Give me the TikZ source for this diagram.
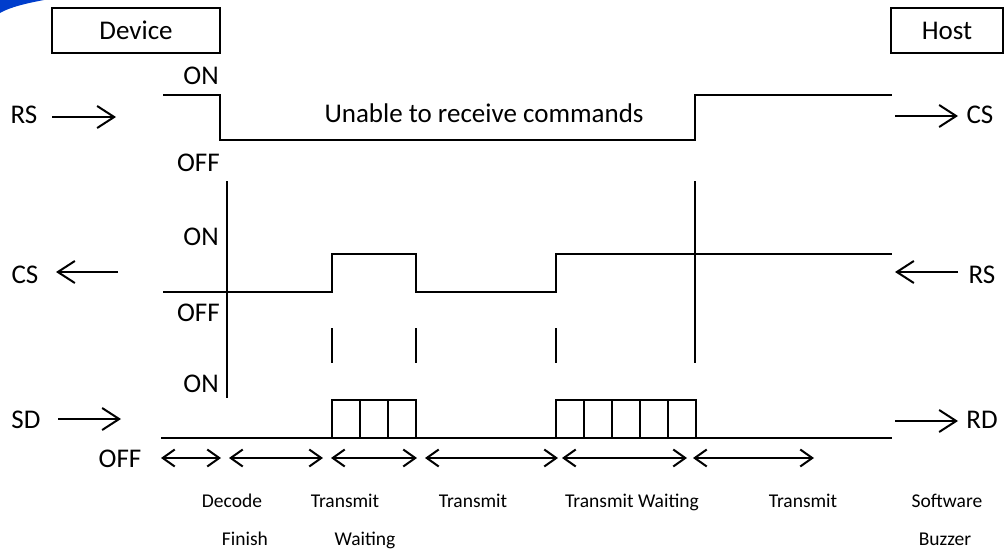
\documentclass[tikz,border=0pt]{standalone}
\usepackage{fontspec}
\setmainfont{Carlito}
\usetikzlibrary{arrows.meta}
\begin{document}
\begin{tikzpicture}[x=1pt,y=-1pt,
  lbl/.style={inner sep=0pt, font=\fontsize{27}{32}\selectfont},
  small/.style={inner sep=0pt, font=\fontsize{19.5}{23}\selectfont, anchor=base},
  sig/.style={line width=2.4pt, line join=miter},
  bar/.style={line width=2pt},
  hbox/.style={draw, line width=2.2pt, inner sep=0pt, font=\fontsize{27}{32}\selectfont},
  sarrow/.style={line width=2pt, -{Straight Barb[length=17pt,width=22pt,line width=2pt]}},
  darrow/.style={line width=2pt, {Straight Barb[length=12pt,width=17pt,line width=2pt]}-{Straight Barb[length=12pt,width=17pt,line width=2pt]}}
]
\useasboundingbox (0,0) rectangle (1005,554);
% logo fragment
\fill[blue!70!cyan!80!black] (0,0) -- (44,0) .. controls (28,3) and (10,7) .. (0,13) -- cycle;

% header boxes
\node[hbox, minimum width=168pt, minimum height=45pt] (dev) at (136,30.5) {Device};
\node[hbox, minimum width=112pt, minimum height=45pt] (host) at (947,30.5) {Host};

% ---------- RS / CS row ----------
\node[lbl, anchor=base] (rsl) at (24,123) {RS};
\coordinate (rsa1) at (52,117);
\coordinate (rsa2) at (116,117);
\draw[sarrow] (rsa1) -- (rsa2);
\node[lbl, anchor=base east] (on1) at (219,84) {ON};
\node[lbl, anchor=base east] (off1) at (220,171) {OFF};
\draw[sig] (163,95) -- (220,95) -- (220,140) -- (695,140) -- (695,95) -- (892,95);
\node[lbl, anchor=base] (unable) at (484,122) {Unable to receive commands};
\coordinate (csa1) at (895,116);
\coordinate (csa2) at (958,116);
\draw[sarrow] (csa1) -- (csa2);
\node[lbl, anchor=base] (csr) at (980,123) {CS};

% vertical marker lines
\coordinate (v1t) at (227,181);
\coordinate (v1b) at (227,398);
\draw[bar] (v1t) -- (v1b);
\coordinate (v2t) at (695,181);
\coordinate (v2b) at (695,363);
\draw[bar] (v2t) -- (v2b);

% ---------- CS / RS row ----------
\node[lbl, anchor=base] (csl) at (25,283) {CS};
\coordinate (cla1) at (118,272);
\coordinate (cla2) at (56,272);
\draw[sarrow] (cla1) -- (cla2);
\node[lbl, anchor=base east] (on2) at (219,245) {ON};
\node[lbl, anchor=base east] (off2) at (220,321) {OFF};
\draw[sig] (163,292) -- (332,292) -- (332,254) -- (416,254) -- (416,292) -- (556,292) -- (556,254) -- (892,254);
\coordinate (rra1) at (958,272);
\coordinate (rra2) at (895,272);
\draw[sarrow] (rra1) -- (rra2);
\node[lbl, anchor=base] (rsr) at (982,283) {RS};

% ticks
\foreach \x in {332,416,556} \draw[bar] (\x,328) -- (\x,363);

% ---------- SD / RD row ----------
\node[lbl, anchor=base] (sdl) at (26,428) {SD};
\coordinate (sda1) at (58,419);
\coordinate (sda2) at (121,419);
\draw[sarrow] (sda1) -- (sda2);
\node[lbl, anchor=base east] (on3) at (219,392) {ON};
\draw[sig] (161,438) -- (892,438);
\draw[sig] (332,438) -- (332,400) -- (416,400) -- (416,438);
\foreach \x in {360,388} \draw[sig] (\x,400) -- (\x,438);
\draw[sig] (556,438) -- (556,400) -- (696,400) -- (696,438);
\foreach \x in {584,612,640,668} \draw[sig] (\x,400) -- (\x,438);
\coordinate (rda1) at (895,421);
\coordinate (rda2) at (958,421);
\draw[sarrow] (rda1) -- (rda2);
\node[lbl, anchor=base] (rdr) at (982,428) {RD};

% ---------- phase arrows ----------
\node[lbl, anchor=base] (off3) at (120,467) {OFF};
\foreach \a/\b [count=\i] in {161/221,229/323,331/417,425/558,562/687,693/814} {
  \coordinate (p\i a) at (\a,458);
  \coordinate (p\i b) at (\b,458);
  \draw[darrow] (p\i a) -- (p\i b);
}
\node[small] (t1) at (232,507) {Decode};
\node[small] (t1b) at (245,545) {Finish};
\node[small] (t2) at (345,507) {Transmit};
\node[small] (t2b) at (365,545) {Waiting};
\node[small] (t3) at (473,507) {Transmit};
\node[small] (t4) at (632,507) {Transmit Waiting};
\node[small] (t5) at (803,507) {Transmit};
\node[small] (t6) at (947,507) {Software};
\node[small] (t6b) at (945,545) {Buzzer};
\end{tikzpicture}
\end{document}
